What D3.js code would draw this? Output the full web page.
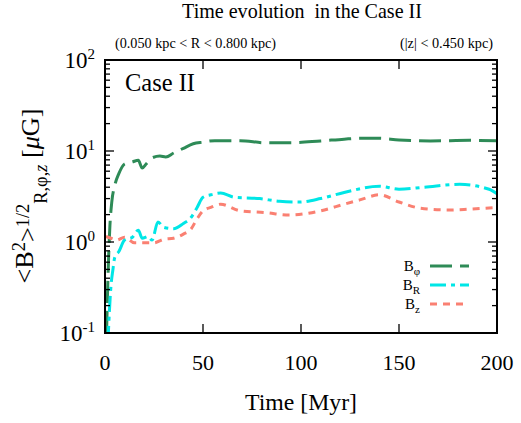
<!DOCTYPE html>
<html>
<head>
<meta charset="utf-8">
<script src="https://cdn.jsdelivr.net/npm/d3@7"></script>
<style>
  body { margin: 0; background: #fff; }
  text { font-family: "Liberation Serif", "Times New Roman", serif; }
</style>
</head>
<body>
<svg id="chart" width="521" height="423"></svg>
<script>
"use strict";

// values (time in Myr, field in microgauss)
const tPhi = [0.8, 1.5, 2.5, 3.5, 5, 7, 10, 14, 17, 19, 21, 24, 28, 31, 35, 40, 45, 50, 56, 69, 82, 94, 110, 122, 130, 140, 150, 166, 186, 200];
const bPhi = [0.1, 0.4, 1.5, 2.8, 4.2, 5.6, 7.2, 7.6, 7.9, 6.5, 7.2, 8.4, 8.8, 8.6, 9.5, 10.7, 12.0, 12.5, 13.0, 13.0, 12.3, 12.3, 12.9, 13.5, 13.8, 13.8, 13.2, 12.9, 13.1, 13.0];

const tR = [1.5, 3, 4, 5, 7, 10, 14, 17, 19, 22, 24, 27, 30, 35, 40, 44, 47, 50, 54, 59, 66, 79, 89, 99, 110, 122, 140, 150, 163, 181, 196, 200];
const bR = [0.08, 0.32, 0.49, 0.68, 0.78, 1.05, 1.13, 1.35, 1.1, 1.15, 1.05, 1.66, 1.45, 1.4, 1.6, 1.87, 2.4, 3.1, 3.3, 3.45, 3.1, 3.0, 2.8, 2.75, 3.0, 3.5, 4.1, 3.8, 4.0, 4.3, 3.8, 3.4];

const tZ = [0.5, 3, 6, 10, 15, 20, 25, 30, 35, 40, 44, 47, 50, 54, 59, 69, 82, 94, 110, 122, 130, 140, 150, 161, 176, 186, 200];
const bZ = [1.15, 1.1, 1.05, 1.13, 0.98, 0.98, 0.98, 1.07, 1.1, 1.22, 1.4, 1.8, 2.2, 2.4, 2.6, 2.2, 2.1, 1.98, 2.2, 2.6, 2.9, 3.3, 2.75, 2.35, 2.25, 2.3, 2.4];

const xTicks = [0, 50, 100, 150, 200];
const yDecades = [-1, 0, 1, 2];

const series = [
  { name: "\u03c6", t: tPhi, v: bPhi, color: "#2e8b57", dash: "22,8" },
  { name: "R", t: tR, v: bR, color: "#00e6e6", dash: "16,5,4,5" },
  { name: "z", t: tZ, v: bZ, color: "#fa8072", dash: "7,6" }
];

const FONT = "'Liberation Serif', 'Times New Roman', serif";
const svg = d3.select("#chart").attr("font-family", FONT);
const mLeft = 105, mRight = 497, mTop = 60, mBottom = 333;

const x = d3.scaleLinear().domain([0, 200]).range([mLeft, mRight]);
const y = d3.scaleLog().domain([0.1, 100]).range([mBottom, mTop]);

// set a text's font size so that its run length matches the reference
function fitWidth(sel, target) {
  const base = parseFloat(sel.style("font-size"));
  const w = sel.node().getBBox().width;
  if (w > 0) sel.style("font-size", (base * target / w).toFixed(2) + "px");
}

// title and region notes
const title = svg.append("text").attr("x", 302).attr("y", 18).attr("text-anchor", "middle")
  .style("font-size", "18px").text("Time evolution\u00a0 in the Case II");
fitWidth(title, 240);
const noteL = svg.append("text").attr("x", 115).attr("y", 48)
  .style("font-size", "13px").text("(0.050 kpc < R < 0.800 kpc)");
fitWidth(noteL, 161);
const noteR = svg.append("text").attr("x", 493).attr("y", 48).attr("text-anchor", "end")
  .style("font-size", "13px").text("(|z| < 0.450 kpc)");
fitWidth(noteR, 93);

// clip for curves
svg.append("clipPath").attr("id", "clip").append("rect")
  .attr("x", mLeft).attr("y", mTop).attr("width", mRight - mLeft).attr("height", mBottom - mTop);

const line = d3.line()
  .x(d => x(d[0]))
  .y(d => y(d[1]))
  .curve(d3.curveMonotoneX);

const plot = svg.append("g").attr("clip-path", "url(#clip)");
series.forEach(s => {
  plot.append("path")
    .datum(s.t.map((t, i) => [t, s.v[i]]))
    .attr("d", line)
    .attr("fill", "none")
    .attr("stroke", s.color)
    .attr("stroke-width", 3)
    .attr("stroke-dasharray", s.dash);
});

// ticks: inward, mirrored on all sides
const tk = svg.append("g").attr("stroke", "#000").attr("stroke-width", 1.3);
xTicks.slice(1, -1).forEach(t => {
  tk.append("line").attr("x1", x(t)).attr("x2", x(t)).attr("y1", mBottom).attr("y2", mBottom - 9);
  tk.append("line").attr("x1", x(t)).attr("x2", x(t)).attr("y1", mTop).attr("y2", mTop + 9);
});
yDecades.forEach(e => {
  for (let m = 1; m <= 9; m++) {
    const v = m * Math.pow(10, e);
    if (v > 100) break;
    const len = m === 1 ? 9 : 5;
    tk.append("line").attr("x1", mLeft).attr("x2", mLeft + len).attr("y1", y(v)).attr("y2", y(v));
    tk.append("line").attr("x1", mRight).attr("x2", mRight - len).attr("y1", y(v)).attr("y2", y(v));
  }
});

// frame
svg.append("rect").attr("x", mLeft).attr("y", mTop)
  .attr("width", mRight - mLeft).attr("height", mBottom - mTop)
  .attr("fill", "none").attr("stroke", "#000").attr("stroke-width", 2);

// x tick labels
svg.append("g").selectAll("text").data(xTicks).join("text")
  .attr("x", d => x(d)).attr("y", 370).attr("text-anchor", "middle")
  .style("font-size", "22px").text(d => d);

// y tick labels (10^n)
const yl = svg.append("g").selectAll("text").data(yDecades).join("text")
  .attr("x", 95).attr("y", d => y(Math.pow(10, d)) + 8).attr("text-anchor", "end")
  .style("font-size", "23px");
yl.append("tspan").text("10");
yl.append("tspan").attr("dy", -9).style("font-size", "15px").text(d => d);

// axis titles
const xlab = svg.append("text").attr("x", 301).attr("y", 410).attr("text-anchor", "middle")
  .style("font-size", "22px").text("Time [Myr]");
fitWidth(xlab, 112);

const ylab = svg.append("text")
  .attr("transform", "translate(33,196) rotate(-90)")
  .attr("text-anchor", "middle").style("font-size", "22px");
ylab.append("tspan").text("<B");
ylab.append("tspan").attr("dy", "-0.42em").style("font-size", "0.7em").text("2");
ylab.append("tspan").attr("dy", "0.42em").text(">");
ylab.append("tspan").attr("dy", "-0.42em").style("font-size", "0.7em").text("1/2");
ylab.append("tspan").attr("dy", "1.0em").style("font-size", "0.7em").text("R,\u03c6,");
ylab.append("tspan").style("font-size", "0.7em").style("font-style", "italic").text("z");
ylab.append("tspan").attr("dy", "-0.3em").text(" [");
ylab.append("tspan").style("font-style", "italic").text("\u03bc");
ylab.append("tspan").text("G]");
fitWidth(ylab, 175);

// panel label
const caseLab = svg.append("text").attr("x", 125).attr("y", 91).style("font-size", "22px").text("Case II");
fitWidth(caseLab, 70);

// legend
const lg = svg.append("g");
series.forEach((s, i) => {
  const ly = 266 + i * 19;
  const tx = lg.append("text").attr("x", 420).attr("y", ly + 5).attr("text-anchor", "end")
    .style("font-size", "15px");
  tx.append("tspan").text("B");
  tx.append("tspan").attr("dy", 4).style("font-size", "11px").text(s.name);
  lg.append("line").attr("x1", 430).attr("x2", 469).attr("y1", ly).attr("y2", ly)
    .attr("stroke", s.color).attr("stroke-width", 3).attr("stroke-dasharray", s.dash);
});
</script>
</body>
</html>
